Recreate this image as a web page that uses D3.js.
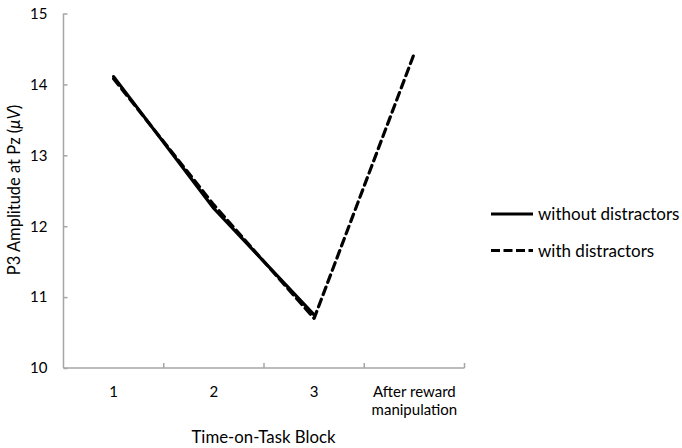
<!DOCTYPE html>
<html>
<head>
<meta charset="utf-8">
<script src="https://cdn.jsdelivr.net/npm/d3@7"></script>
<style>
  body { margin: 0; background: #fff; }
  svg { display: block; font-family: Lato, "Open Sans", sans-serif; }
</style>
</head>
<body>
<svg id="chart" width="682" height="448"></svg>
<script>
// Time-on-task blocks and the P3 amplitude for each condition
const categories = ["1", "2", "3", "After reward manipulation"];
const withoutDistractors = [14.11, 12.25, 10.75, null];
const withDistractors = [14.08, 12.30, 10.70, 14.44];
const yTicks = [10, 11, 12, 13, 14, 15];
const seriesNames = ["without distractors", "with distractors"];

const svg = d3.select("#chart");
const margin = { left: 63.5, right: 464.5, top: 13.5, bottom: 368 };

const x = d3.scaleBand().domain(categories).range([margin.left, margin.right]).padding(0);
const y = d3.scaleLinear().domain([10, 15]).range([margin.bottom, margin.top]);
const axisColor = "#a6a6a6";

// y axis with inward ticks
const yAxis = svg.append("g").attr("transform", `translate(${margin.left},0)`)
  .call(d3.axisLeft(y).tickValues(yTicks).tickSize(-4).tickPadding(16).tickFormat(d3.format("d")));
yAxis.select(".domain").attr("stroke", axisColor).attr("stroke-width", 1.5).attr("d", `M0,${margin.top}V${margin.bottom}`);
yAxis.selectAll(".tick line").attr("stroke", axisColor).attr("stroke-width", 1.5);
yAxis.selectAll(".tick text").attr("fill", "#000").style("font-size", "15px").attr("font-family", "Lato, 'Open Sans', sans-serif");

// x axis: ticks sit between categories
const xAxisG = svg.append("g").attr("transform", `translate(0,${margin.bottom})`);
xAxisG.append("line").attr("x1", margin.left).attr("x2", margin.right)
  .attr("stroke", axisColor).attr("stroke-width", 1.5);
const bounds = categories.map(c => x(c)).concat([x(categories[categories.length - 1]) + x.bandwidth()]);
xAxisG.selectAll("line.tk").data(bounds.slice(1)).join("line").attr("class", "tk")
  .attr("x1", d => d).attr("x2", d => d).attr("y1", 0).attr("y2", -5)
  .attr("stroke", axisColor).attr("stroke-width", 1.5);

const labelLines = { "After reward manipulation": ["After reward", "manipulation"] };
categories.forEach(c => {
  const lines = labelLines[c] || [c];
  const t = xAxisG.append("text").attr("text-anchor", "middle")
    .attr("x", x(c) + x.bandwidth() / 2).attr("y", 0)
    .style("font-size", "15px").attr("fill", "#000");
  lines.forEach((l, i) => t.append("tspan").attr("x", x(c) + x.bandwidth() / 2).attr("y", 29 + i * 18).text(l));
});

// axis titles
svg.append("text").attr("x", 263.5).attr("y", 443).attr("text-anchor", "middle")
  .style("font-size", "16.8px").text("Time-on-Task Block");
const yt = svg.append("text").attr("transform", "translate(20,190) rotate(-90)").attr("text-anchor", "middle")
  .style("font-size", "16.5px");
yt.append("tspan").text("P3 Amplitude at Pz (");
yt.append("tspan").attr("font-style", "italic").text("μV");
yt.append("tspan").text(")");

// lines
const line = d3.line()
  .defined(d => d.v != null)
  .x(d => x(d.c) + x.bandwidth() / 2)
  .y(d => y(d.v));
const toPts = arr => categories.map((c, i) => ({ c, v: arr[i] }));

svg.append("path").datum(toPts(withoutDistractors)).attr("d", line)
  .attr("fill", "none").attr("stroke", "#000").attr("stroke-width", 3.2)
  .attr("stroke-linecap", "round").attr("stroke-linejoin", "round");
svg.append("path").datum(toPts(withDistractors)).attr("d", line)
  .attr("fill", "none").attr("stroke", "#000").attr("stroke-width", 3.2)
  .attr("stroke-dasharray", "8,5").attr("stroke-linecap", "round").attr("stroke-linejoin", "round");

// legend
const legend = svg.append("g");
seriesNames.forEach((name, i) => {
  const ly = 214 + i * 36.5;
  legend.append("line").attr("x1", 491).attr("x2", 533).attr("y1", ly).attr("y2", ly)
    .attr("stroke", "#000").attr("stroke-width", 3.2)
    .attr("stroke-dasharray", i === 1 ? "9,3.5" : null);
  legend.append("text").attr("x", 538).attr("y", ly + 6).style("font-size", "17px").text(name);
});
</script>
</body>
</html>
